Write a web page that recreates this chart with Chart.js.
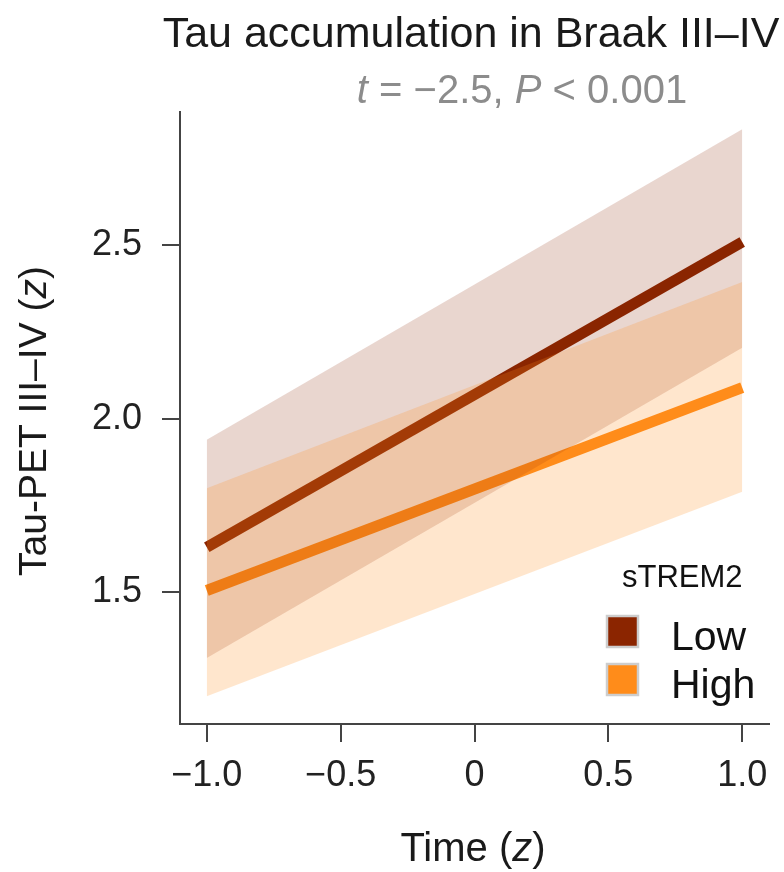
<!DOCTYPE html>
<html><head><meta charset="utf-8">
<script src="https://cdn.jsdelivr.net/npm/chart.js@4"></script>
<style>html,body{margin:0;padding:0;background:#fff}canvas{display:block}</style>
</head><body>
<canvas id="c" width="784" height="872"></canvas>
<script>
// ---- data ----
const timeValues = [-1, 1];
const lowFit = [1.63, 2.51];
const lowUpper = [1.94, 2.835];
const lowLower = [1.31, 2.205];
const highFit = [1.505, 2.09];
const highUpper = [1.80, 2.395];
const highLower = [1.20, 1.79];
const xTickValues = [-1, -0.5, 0, 0.5, 1];
const xTickLabels = ['−1.0', '−0.5', '0', '0.5', '1.0'];
const yTickValues = [1.5, 2.0, 2.5];
const yTickLabels = ['1.5', '2.0', '2.5'];
const groupNames = ['Low', 'High'];
const legendTitle = 'sTREM2';
const titleText = 'Tau accumulation in Braak III–IV';
const statText = [['t', true], [' = −2.5, ', false], ['P', true], [' < 0.001', false]];
const yTitle = [['Tau-PET III–IV (', false], ['z', true], [')', false]];
const xTitle = [['Time (', false], ['z', true], [')', false]];

const lowColor = '#8b2500';
const highColor = '#ff8c1a';
const lowBand = 'rgba(139,37,0,0.19)';
const highBand = 'rgba(255,140,26,0.22)';
const FONT = '"Liberation Sans", Arial, sans-serif';

const pts = arr => timeValues.map((x, i) => ({x, y: arr[i]}));

function richWidth(ctx, segs, size) {
  let w = 0;
  for (const [t, it] of segs) { ctx.font = (it ? 'italic ' : '') + size + 'px ' + FONT; w += ctx.measureText(t).width; }
  return w;
}
function drawRich(ctx, segs, x, y, size, color, align) {
  const w = richWidth(ctx, segs, size);
  let cx = align === 'center' ? x - w / 2 : x;
  ctx.fillStyle = color; ctx.textBaseline = 'alphabetic'; ctx.textAlign = 'left';
  for (const [t, it] of segs) {
    ctx.font = (it ? 'italic ' : '') + size + 'px ' + FONT;
    ctx.fillText(t, cx, y);
    cx += ctx.measureText(t).width;
  }
}

const textPlugin = {
  id: 'texts',
  afterDraw(chart) {
    const ctx = chart.ctx;
    ctx.save();
    drawRich(ctx, [[titleText, false]], 471, 47, 43, '#1a1a1a', 'center');
    drawRich(ctx, statText, 522, 103, 40, '#8c8c8c', 'center');
    drawRich(ctx, xTitle, 473, 861, 40, '#1a1a1a', 'center');
    ctx.save();
    ctx.translate(46, 421);
    ctx.rotate(-Math.PI / 2);
    drawRich(ctx, yTitle, 0, 0, 39, '#1a1a1a', 'center');
    ctx.restore();
    // legend
    ctx.font = '31px ' + FONT; ctx.fillStyle = '#111'; ctx.textAlign = 'left'; ctx.textBaseline = 'alphabetic';
    ctx.fillText(legendTitle, 622, 587);
    const cols = [lowColor, highColor];
    const tops = [616, 664];
    const bases = [650, 698];
    groupNames.forEach((g, i) => {
      ctx.fillStyle = cols[i];
      ctx.fillRect(607, tops[i], 31, 31);
      ctx.strokeStyle = '#cdcdcd'; ctx.lineWidth = 2.5;
      ctx.strokeRect(607, tops[i], 31, 31);
      ctx.font = '41px ' + FONT; ctx.fillStyle = '#111';
      ctx.fillText(g, 671, bases[i]);
    });
    ctx.restore();
  }
};

const lineDs = (label, arr, color, order) => ({
  label, data: pts(arr), borderColor: color, backgroundColor: color, borderWidth: 11,
  pointRadius: 0, fill: false, order, borderCapStyle: 'butt'
});
const bandDs = (label, arr, fill, bg, order) => ({
  label, data: pts(arr), borderColor: 'transparent', backgroundColor: bg, borderWidth: 0,
  pointRadius: 0, fill, order
});

new Chart(document.getElementById('c'), {
  type: 'line',
  data: {
    datasets: [
      lineDs('Low', lowFit, lowColor, 5),
      lineDs('High', highFit, highColor, 4),
      bandDs('Low upper', lowUpper, 3, lowBand, 3),
      bandDs('Low lower', lowLower, false, lowBand, 3),
      bandDs('High upper', highUpper, 5, highBand, 1),
      bandDs('High lower', highLower, false, highBand, 1)
    ]
  },
  options: {
    responsive: false, animation: false, devicePixelRatio: 1,
    layout: {padding: {left: 0, top: 112, right: 15, bottom: 0}},
    plugins: {legend: {display: false}, tooltip: {enabled: false}, title: {display: false}},
    scales: {
      x: {
        type: 'linear', min: -1.1, max: 1.1,
        afterBuildTicks: s => { s.ticks = xTickValues.map(v => ({value: v})); },
        afterFit: s => { s.height = 148; },
        ticks: {
          callback: (v) => { const i = xTickValues.indexOf(v); return i >= 0 ? xTickLabels[i] : ''; },
          font: {family: FONT, size: 36}, color: '#222', padding: 12, maxRotation: 0, autoSkip: false
        },
        grid: {display: true, drawOnChartArea: false, drawTicks: true, tickLength: 18, color: '#444', lineWidth: 2},
        border: {display: true, color: '#444', width: 2}
      },
      y: {
        type: 'linear', min: 1.12, max: 2.885,
        afterBuildTicks: s => { s.ticks = yTickValues.map(v => ({value: v})); },
        afterFit: s => { s.width = 180; },
        ticks: {
          callback: (v) => { const i = yTickValues.indexOf(v); return i >= 0 ? yTickLabels[i] : ''; },
          font: {family: FONT, size: 36}, color: '#222', padding: 20
        },
        grid: {display: true, drawOnChartArea: false, drawTicks: true, tickLength: 18, color: '#444', lineWidth: 2},
        border: {display: true, color: '#444', width: 2}
      }
    }
  },
  plugins: [textPlugin]
});
</script>
</body></html>
